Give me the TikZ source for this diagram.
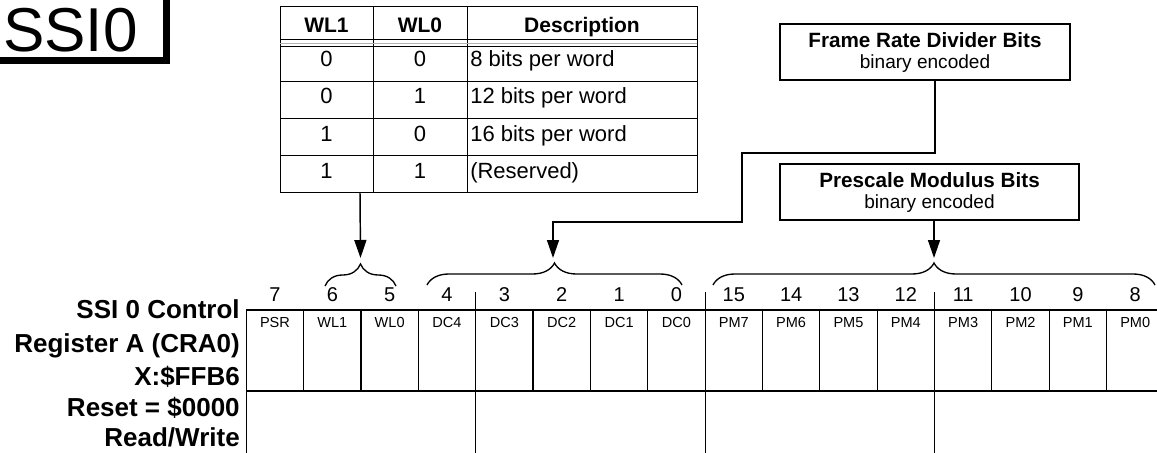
\documentclass[tikz,border=0pt]{standalone}
\usepackage{fontspec}
\setmainfont{Liberation Sans}
\usetikzlibrary{arrows.meta,decorations.pathreplacing}

\begin{document}
\begin{tikzpicture}[
    x=0.75pt, y=-0.75pt,
    >={Triangle[length=13.5pt, width=9pt]},
    grid/.style   ={line width=0.9pt},
    tline/.style  ={line width=0.75pt},
    tbl/.style    ={font=\fontsize{16.5}{18}\selectfont, inner sep=0pt},
    tblh/.style   ={font=\bfseries\fontsize{15.75}{18}\selectfont, inner sep=0pt, anchor=base},
    regname/.style={font=\bfseries\fontsize{19.5}{22}\selectfont, anchor=base east, inner sep=0pt},
    bitnum/.style ={font=\fontsize{15}{18}\selectfont, anchor=base, inner sep=0pt},
    bitname/.style={font=\fontsize{10.9}{13}\selectfont, anchor=base, inner sep=0pt},
    infobox/.style={draw, line width=1.1pt, align=center, inner sep=0pt,
                    minimum height=42pt, font=\fontsize{14.3}{15.75}\selectfont},
    brc/.style    ={decorate, decoration={brace, amplitude=16.5pt}, line width=1pt},
    flow/.style   ={->, line width=1.1pt},
]
\useasboundingbox (0,0) rectangle (1157,453);

% title tab
\node[font=\fontsize{46.5}{50}\selectfont, anchor=base west, inner sep=0pt]
    (ssititle) at (3,52) {SSI0};
\draw[line width=5.25pt] (-6,61) -| (166.5,-6);

% word length table
\draw[tline] (280,7) rectangle (697,192.7);
\foreach \xx in {373,467}
    \draw[tline] (\xx,7) -- (\xx,192.7);
\foreach \yy in {40,46.5,81.7,118.3,155.7}
    \draw[tline] (280,\yy) -- (697,\yy);
\draw[gray!60, line width=0.5pt] (280,43.2) -- (697,43.2);

\node[tblh] (hwl1)  at (326.5,32.3) {WL1};
\node[tblh] (hwl0)  at (420,32.3)   {WL0};
\node[tblh] (hdesc) at (582,32.3)   {Description};
\foreach \a/\b/\d/\yb [count=\r] in {0/0/8 bits per word/66.7,
                                    0/1/12 bits per word/103.3,
                                    1/0/16 bits per word/141.7,
                                    1/1/(Reserved)/178} {
    \node[tbl, anchor=base]      (ta\r) at (326.5,\yb) {\a};
    \node[tbl, anchor=base]      (tb\r) at (420,\yb)   {\b};
    \node[tbl, anchor=base west] (td\r) at (470,\yb)   {\d};
}
\coordinate (tblout) at (360,192.7);

% description boxes
\node[infobox, minimum width=217.5pt] (frbox) at (925,52)
    {{\bfseries\fontsize{15.5}{15.75}\selectfont Frame Rate Divider Bits}\\binary encoded};
\node[infobox, minimum width=224.25pt] (psbox) at (929.5,192)
    {{\bfseries\fontsize{15.5}{15.75}\selectfont Prescale Modulus Bits}\\binary encoded};
\coordinate (frout) at (935,80);

% register label
\foreach \yb/\t [count=\k] in {318/{SSI 0 Control}, 352/{Register A (CRA0)},
                               385/{X:\$FFB6}, 416.7/{Reset = \$0000},
                               446.7/{Read/Write}}
    \node[regname] (regl\k) at (240,\yb) {\t};

% register cells
\draw[grid] (246.3,310) -- (1157,310);
\draw[grid] (246.3,391) -- (1157,391);
\draw[grid] (246.3,310) -- (246.3,453);
\foreach \i in {1,...,15}
    \draw[grid] ({246.3+57.35*\i},310) -- ++(0,81);
\foreach \i in {4,8,12}
    \draw[grid] ({246.3+57.35*\i},292) -- ({246.3+57.35*\i},453);

\foreach \n [count=\i from 0] in {7,6,5,4,3,2,1,0,15,14,13,12,11,10,9,8}
    \node[bitnum] (bn\i) at ({246.3+57.35*(\i+0.5)},301) {\n};
\foreach \n [count=\i from 0] in {PSR,WL1,WL0,DC4,DC3,DC2,DC1,DC0,
                                 PM7,PM6,PM5,PM4,PM3,PM2,PM1,PM0}
    \node[bitname] (bf\i) at ({246.3+57.35*(\i+0.5)},327.5) {\n};

% braces over bit fields
\draw[brc] (325,286) -- (396,286);
\draw[brc] (427,285) -- (682,285);
\draw[brc] (713,285) -- (1155,285);
\coordinate (wlin) at (360.5,258);
\coordinate (dcin) at (553,258);
\coordinate (pmin) at (934,258);

% connectors
\draw[flow] (tblout) -- (wlin);
\draw[flow] (frout) |- (742,153) |- (553,222) -- (dcin);
\draw[flow] (psbox.south -| pmin) -- (pmin);

\end{tikzpicture}
\end{document}
